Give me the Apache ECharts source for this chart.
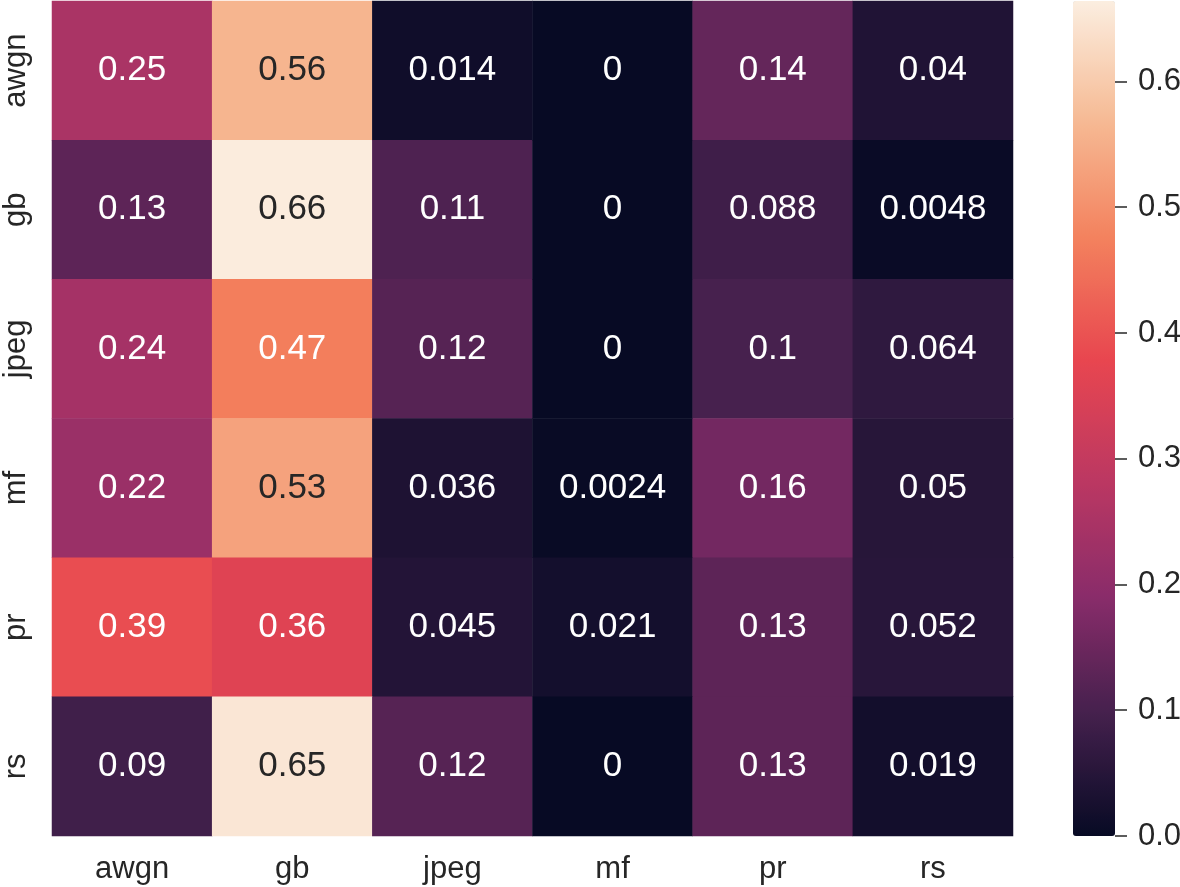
<!DOCTYPE html>
<html>
<head>
<meta charset="utf-8">
<script src="https://cdn.jsdelivr.net/npm/echarts@6/dist/echarts.min.js"></script>
<style>
html,body{margin:0;padding:0;background:#fff;}
#chart{width:1180px;height:887px;}
</style>
</head>
<body>
<div id="chart"></div>
<script>
// Categories (rows top→bottom, columns left→right)
const rowLabels = ['awgn', 'gb', 'jpeg', 'mf', 'pr', 'rs'];
const colLabels = ['awgn', 'gb', 'jpeg', 'mf', 'pr', 'rs'];

// Cell values by row
const rowAwgn = [0.25, 0.56, 0.014, 0, 0.14, 0.04];
const rowGb   = [0.13, 0.66, 0.11, 0, 0.088, 0.0048];
const rowJpeg = [0.24, 0.47, 0.12, 0, 0.1, 0.064];
const rowMf   = [0.22, 0.53, 0.036, 0.0024, 0.16, 0.05];
const rowPr   = [0.39, 0.36, 0.045, 0.021, 0.13, 0.052];
const rowRs   = [0.09, 0.65, 0.12, 0, 0.13, 0.019];
const matrix = [rowAwgn, rowGb, rowJpeg, rowMf, rowPr, rowRs];

// Colour bar scale
const colorMin = 0;
const colorMax = 0.664;
const colorbarAxisMax = 0.7;   // axis runs past the bar top so ticks stop at 0.6
const colorbarStep = 0.1;

// "rocket"-like colormap stops (evenly spaced), tuned to the reference
const rocket = ['#070a24', '#43204c', '#892c6a', '#bd3862', '#e8464f', '#f3815d', '#f6ba94', '#fbeee0'];

const data = [];
matrix.forEach((row, r) => {
  row.forEach((v, c) => {
    data.push({
      value: [c, r, v],
      label: { color: v >= 0.5 ? '#262626' : '#ffffff' }
    });
  });
});

const FONT = '"Liberation Sans", Arial, sans-serif';

// colour bar geometry
const barLeft = 1073, barWidth = 42, barTop = 1, barHeight = 835, tickLen = 12;
const axisHeight = barHeight * colorbarAxisMax / colorMax;
const axisTop = barTop + barHeight - axisHeight;

const chart = echarts.init(document.getElementById('chart'), null, { renderer: 'canvas' });
chart.setOption({
  animation: false,
  backgroundColor: '#ffffff',
  grid: [
    { left: 52, top: 1, width: 961, height: 835, outerBoundsMode: 'none', containLabel: false },
    { left: barLeft + barWidth, top: axisTop, width: tickLen, height: axisHeight, outerBoundsMode: 'none', containLabel: false }
  ],
  xAxis: [
    {
      type: 'category', gridIndex: 0, data: colLabels, position: 'bottom',
      axisLine: { show: false }, axisTick: { show: false }, splitLine: { show: false },
      axisLabel: { fontFamily: FONT, fontSize: 31, color: '#262626', margin: 18 }
    },
    { type: 'value', gridIndex: 1, show: false, min: 0, max: 1 }
  ],
  yAxis: [
    {
      type: 'category', gridIndex: 0, data: rowLabels, inverse: true,
      axisLine: { show: false }, axisTick: { show: false }, splitLine: { show: false },
      axisLabel: { fontFamily: FONT, fontSize: 31, color: '#262626', margin: 20, rotate: 90 }
    },
    {
      type: 'value', gridIndex: 1, position: 'right',
      min: colorMin, max: colorbarAxisMax, interval: colorbarStep,
      axisLine: { show: false },
      axisTick: { show: false },
      splitLine: { show: true, lineStyle: { color: '#262626', width: 1.5, type: 'solid' } },
      axisLabel: {
        fontFamily: FONT, fontSize: 31, color: '#262626', margin: 11,
        formatter: v => v.toFixed(1)
      }
    }
  ],
  visualMap: {
    type: 'continuous',
    min: colorMin, max: colorMax,
    seriesIndex: 0,
    calculable: false,
    hoverLink: false,
    orient: 'vertical',
    left: barLeft, top: barTop,
    itemWidth: barWidth, itemHeight: barHeight,
    padding: 0,
    text: null,
    showLabel: false,
    inRange: { color: rocket }
  },
  series: [
    {
      type: 'heatmap',
      xAxisIndex: 0, yAxisIndex: 0,
      data: data,
      label: {
        show: true, fontFamily: FONT, fontSize: 35,
        formatter: p => String(p.value[2])
      },
      itemStyle: { borderWidth: 0 },
      emphasis: { disabled: true }
    },
    {
      type: 'line', xAxisIndex: 1, yAxisIndex: 1, data: [], silent: true
    }
  ]
});
</script>
</body>
</html>
